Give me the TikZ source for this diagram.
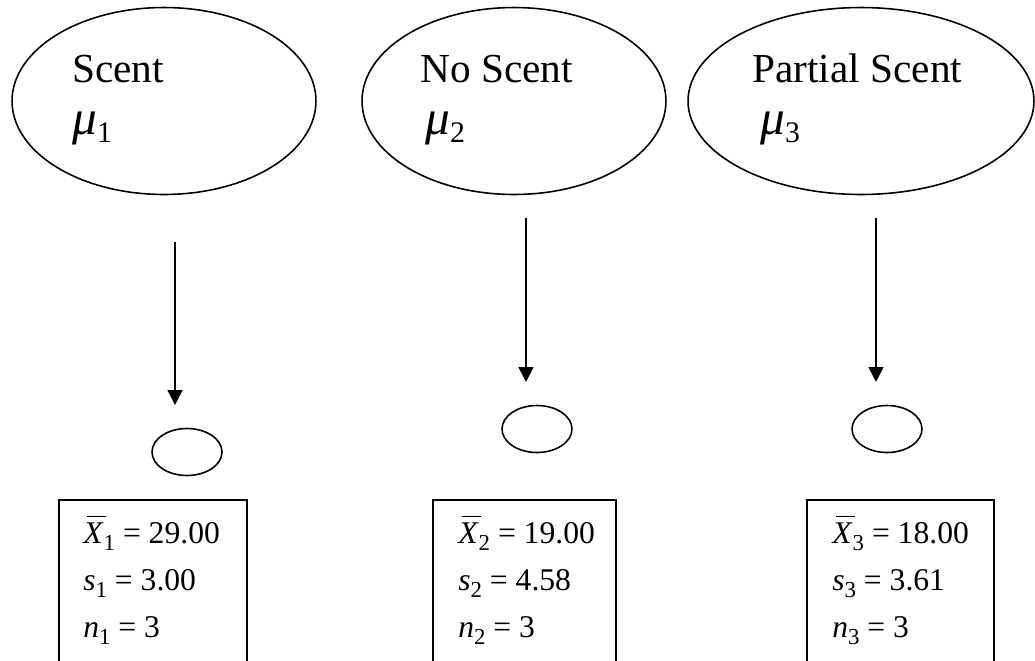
\documentclass[tikz,border=0pt]{standalone}
\usepackage{fontspec}
\setmainfont{Liberation Serif}
\usetikzlibrary{arrows.meta, positioning, shapes.geometric}
\newcommand{\lowsub}[1]{\raisebox{-4pt}{\fontsize{13}{13}\selectfont #1}}
\newcommand{\meanX}{\rlap{\hspace{1.8pt}\rule[15pt]{11pt}{0.6pt}}\textit{X}}
\newcommand{\mupar}[1]{{\fontsize{28}{28}\selectfont\itshape μ}\raisebox{-5pt}{\fontsize{17}{17}\selectfont #1}}

\begin{document}
\begin{tikzpicture}[x=0.02cm,y=-0.02cm,>={Triangle[length=0.3cm,width=0.3cm]},
   pop/.style={ellipse,draw,line width=0.9pt,minimum height=3.74cm,inner sep=0pt},
   smp/.style={ellipse,draw,line width=0.9pt,minimum width=1.4cm,minimum height=0.94cm,inner sep=0pt},
   statbox/.style={draw,line width=0.9pt,minimum width=3.72cm,minimum height=4cm,anchor=north west,inner sep=0pt},
   head/.style={anchor=base west,font=\fontsize{23.5}{28}\selectfont,inner sep=0pt},
   stat/.style={anchor=base west,font=\fontsize{18}{20}\selectfont,inner sep=0pt}]
  \useasboundingbox (0,0) rectangle (1035,660);
  \clip (0,0) rectangle (1035,660);
  % populations
  \node[pop,minimum width=6.08cm] (pop1) at (164,101) {};
  \node[pop,minimum width=6.08cm] (pop2) at (514,101) {};
  \node[pop,minimum width=6.92cm] (pop3) at (861,101) {};
  \node[head] (name1) at (72,82) {Scent};
  \node[head] (name2) at (420,82) {No Scent};
  \node[head] (name3) at (752,82) {Partial Scent};
  \node[head] (mu1) at (72,134) {\mupar{1}};
  \node[head] (mu2) at (425,134) {\mupar{2}};
  \node[head] (mu3) at (760,134) {\mupar{3}};
  % sampling arrows
  \coordinate (top1) at (175,242);
  \coordinate (tip1) at (175,405);
  \coordinate (top2) at (526,218);
  \coordinate (tip2) at (526,382);
  \coordinate (top3) at (876,218);
  \coordinate (tip3) at (876,382);
  \foreach \i in {1,2,3} \draw[->,line width=0.9pt] (top\i) -- (tip\i);
  % samples
  \node[smp] (smp1) at (187,452) {};
  \node[smp] (smp2) at (537,429) {};
  \node[smp] (smp3) at (887,429) {};
  % statistics
  \node[statbox,minimum width=3.76cm] (box1) at (58,499) {};
  \node[statbox,minimum width=3.66cm] (box2) at (432,499) {};
  \node[statbox,minimum width=3.74cm] (box3) at (806,499) {};
  \node[stat] (xbar1) at (83,543) {\meanX\lowsub{1} = 29.00};
  \node[stat] (sd1) at (83,590) {\textit{s}\lowsub{1} = 3.00};
  \node[stat] (n1) at (83,637) {\textit{n}\lowsub{1} = 3};
  \node[stat] (xbar2) at (458,543) {\meanX\lowsub{2} = 19.00};
  \node[stat] (sd2) at (458,590) {\textit{s}\lowsub{2} = 4.58};
  \node[stat] (n2) at (458,637) {\textit{n}\lowsub{2} = 3};
  \node[stat] (xbar3) at (832,543) {\meanX\lowsub{3} = 18.00};
  \node[stat] (sd3) at (832,590) {\textit{s}\lowsub{3} = 3.61};
  \node[stat] (n3) at (832,637) {\textit{n}\lowsub{3} = 3};
\end{tikzpicture}
\end{document}
